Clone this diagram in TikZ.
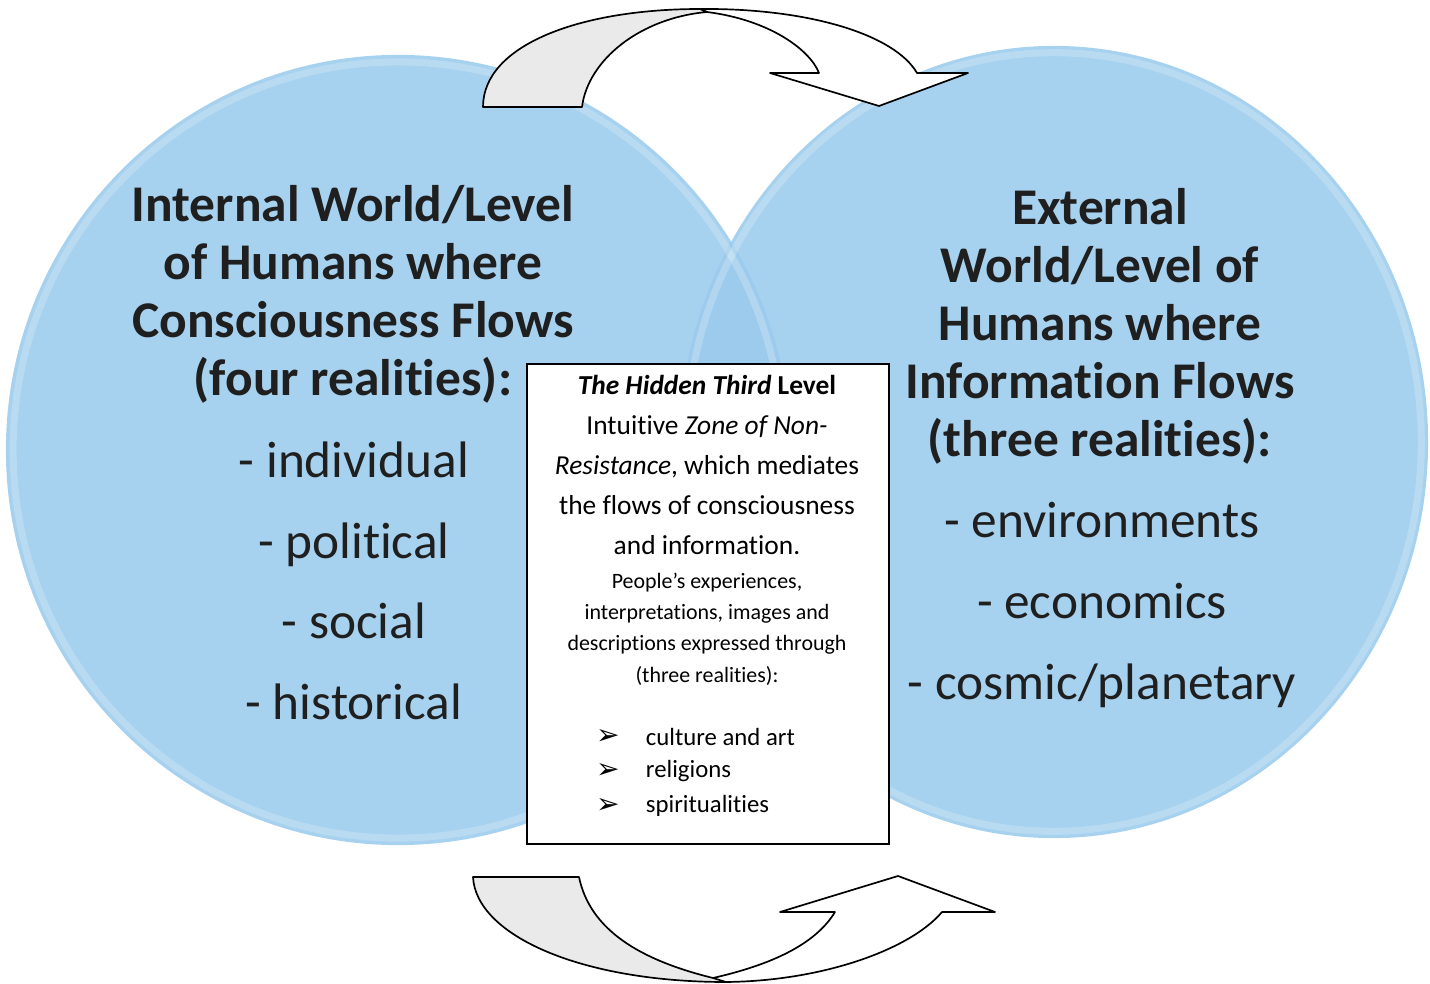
\documentclass[tikz,border=0pt]{standalone}
\usepackage{fontspec}
\setmainfont{Carlito}[Ligatures={NoCommon,NoRequired,NoContextual}, Contextuals=NoAlternate]
\newfontfamily\dingfont{DejaVu Sans}
\usetikzlibrary{shapes.geometric, positioning}
\definecolor{worldblue}{RGB}{166,209,239}
\definecolor{lensblue}{RGB}{120,180,230}
\definecolor{backgrey}{RGB}{234,234,234}
\tikzset{
    world/.style={
        ellipse, fill=worldblue, draw=none, inner sep=0pt
    },
    rim/.style={draw=white, opacity=0.22, line width=5pt},
    worldtitle/.style={
        align=center, text=black!88,
        font=\bfseries\fontsize{36.6}{41.3}\selectfont
    },
    worldlist/.style={
        align=center, text=black!88,
        font=\fontsize{36.5}{57.4}\selectfont
    },
    hiddenbox/.style={
        rectangle, draw=black, line width=1pt, fill=white,
        minimum width=9.05cm, minimum height=12cm
    },
    boxtext/.style={align=center, font=\fontsize{19.5}{28.3}\selectfont},
    boxsmall/.style={align=center, font=\fontsize{15.6}{22.3}\selectfont},
    bulletmark/.style={font=\dingfont\fontsize{20}{20}\selectfont},
    bulletitem/.style={anchor=west, font=\fontsize{17.6}{24.5}\selectfont},
    bandfront/.style={draw=black, line width=1.2pt, fill=white, line join=round},
    bandback/.style={draw=black, line width=1.2pt, fill=backgrey, line join=round}
}

\begin{document}
\begin{tikzpicture}[x=0.025cm, y=-0.025cm]
\useasboundingbox[fill=white] (0,0) rectangle (1430,984);

% The two worlds
\node[world, minimum width=19.6cm, minimum height=19.75cm] (internal) at (398,450) {};
\node[world, minimum width=18.7cm, minimum height=19.8cm] (external) at (1054,442) {};
\begin{scope}
  \clip (1054,442) ellipse [x radius=9.35cm, y radius=9.9cm];
  \fill[lensblue, opacity=0.18] (398,450) ellipse [x radius=9.8cm, y radius=9.875cm];
\end{scope}
\draw[rim] (398,450) ellipse [x radius=9.62cm, y radius=9.7cm];
\draw[rim] (1054,442) ellipse [x radius=9.18cm, y radius=9.73cm];

% Flow arrow on top
\draw[bandfront] (700,9) .. controls (810,8) and (895,35) .. (917,73)
    -- (968,73) -- (879,106) -- (770,73) -- (819,73)
    .. controls (810,50) and (770,20) .. (707,12) -- cycle;
\draw[bandback] (483,107) .. controls (483,45) and (580,9) .. (700,9)
    -- (707,12) .. controls (640,18) and (588,60) .. (582,107) -- cycle;

% Flow arrow below
\draw[bandfront] (722,982) .. controls (820,982) and (910,950) .. (942,912)
    -- (995,912) -- (898,876) -- (780,912) -- (835,912)
    .. controls (815,945) and (770,965) .. (713,978) -- cycle;
\draw[bandback] (473,877) -- (579,877) .. controls (590,930) and (640,960) .. (713,978)
    -- (726,982) .. controls (580,982) and (476,935) .. (473,877) -- cycle;

% Internal world text
\node[worldtitle] (intitle) at (353,294) {Internal World/Level\\of Humans where\\Consciousness Flows\\(four realities):};
\node[worldlist] (inlist) at (354,581) {- individual\\- political\\- social\\- historical};

% External world text
\node[worldtitle] (extitle) at (1100,326) {External\\World/Level of\\Humans where\\Information Flows\\(three realities):};
\node[worldlist] (exlist) at (1102,605) {- environments\\- economics\\- cosmic/planetary};

% Hidden third box
\node[hiddenbox] (hidden) at (708,604) {};
\node[boxtext] (hiddenhead) at (707,465) {\textbf{\textit{The Hidden Third}} \textbf{Level}\\Intuitive \textit{Zone of Non-}\\\textit{Resistance}, which mediates\\the flows of consciousness\\and information.};
\node[boxsmall] (people) at (707,629) {People’s experiences,\\interpretations, images and\\descriptions expressed through\\(three realities):};

\node[bulletmark] (mark1) at (608,737) {➢};
\node[bulletmark] (mark2) at (608,771) {➢};
\node[bulletmark] (mark3) at (608,806) {➢};
\node[bulletitem] (culture) at (641,737) {culture and art};
\node[bulletitem] (religion) at (641,771) {religions};
\node[bulletitem] (spirit) at (641,806) {spiritualities};

\end{tikzpicture}
\end{document}
